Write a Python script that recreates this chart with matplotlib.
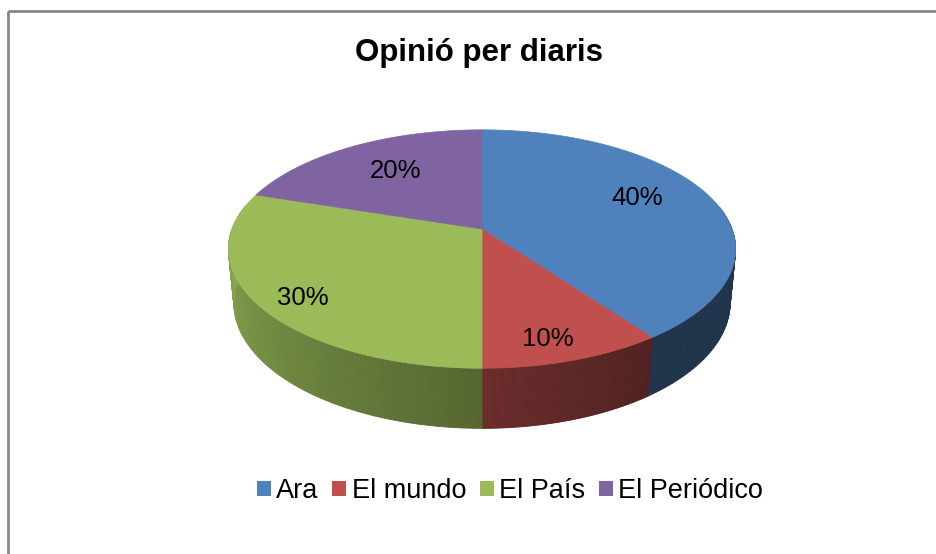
import numpy as np
import matplotlib
matplotlib.use("Agg")
import matplotlib.pyplot as plt
from matplotlib.patches import Polygon, Rectangle, Patch

plt.rcParams['font.family'] = ['Liberation Sans', 'DejaVu Sans']

# data
labels = ["Ara", "El mundo", "El País", "El Periódico"]
values = [40, 10, 30, 20]
colors = ["#4f81bd", "#c0504d", "#9bbb59", "#8064a2"]
title = "Opinió per diaris"

# simple perspective camera for the 3d pie
cx, cy = 482, 229          # apex on screen (pixels)
F = 1317.5
D = 5.27
elev = np.radians(27.6)
se, ce = np.sin(elev), np.cos(elev)
h = 0.245                  # thickness
# where excel put the % labels (radius, angle nudge in degrees)
label_r = [0.72, 0.84, 0.84, 0.68]
label_da = [6.7, -2.3, 2.9, -2.0]


def proj(x, y, z=0.0):
    depth = D + y * ce - z * se
    sx = F * x / depth
    sy = F * (y * se + z * ce) / depth
    return cx + sx, cy - sy


def shade(t):
    # light from the left
    d = np.degrees(t) % 360
    if d < 90:
        d += 360
    return max(0.40, min(0.89, 0.89 - 0.0038 * (d - 180)))


def tint(c, f):
    rgb = np.array(matplotlib.colors.to_rgb(c))
    return tuple(rgb * f)


fig = plt.figure(figsize=(9.37, 5.54), dpi=100)
ax = fig.add_axes([0, 0, 1, 1])
ax.set_xlim(0, 937)
ax.set_ylim(554, 0)
ax.axis("off")

ax.add_patch(Rectangle((8, 11), 1200, 1200, fill=False, edgecolor="#878787", lw=2))

# slice angles, clockwise from 12 o'clock
total = sum(values)
starts = []
a = np.pi / 2
for v in values:
    starts.append((a, a - 2 * np.pi * v / total))
    a -= 2 * np.pi * v / total

# side walls
for (a0, a1), col in zip(starts, colors):
    ts = np.linspace(a0, a1, 120)
    for t1, t2 in zip(ts[:-1], ts[1:]):
        if np.sin((t1 + t2) / 2) > 0.2:
            continue
        p = [proj(np.cos(t1), np.sin(t1)), proj(np.cos(t2), np.sin(t2)),
             proj(np.cos(t2), np.sin(t2), -h), proj(np.cos(t1), np.sin(t1), -h)]
        fc = tint(col, shade((t1 + t2) / 2))
        ax.add_patch(Polygon(p, closed=True, facecolor=fc, edgecolor=fc, lw=0.6))

# top face
for (a0, a1), col in zip(starts, colors):
    ts = np.linspace(a0, a1, 200)
    pts = [proj(0, 0)] + [proj(np.cos(t), np.sin(t)) for t in ts]
    ax.add_patch(Polygon(pts, closed=True, facecolor=col, edgecolor=col, lw=0.5))

# percentage labels
for (a0, a1), v, r, da in zip(starts, values, label_r, label_da):
    m = (a0 + a1) / 2 + np.radians(da)
    x, y = proj(r * np.cos(m), r * np.sin(m))
    ax.text(x, y + 9, f"{v}%", fontsize=18.5, ha="center", va="baseline", color="black")

ax.text(479, 53, title, fontsize=22.5, fontweight="bold", ha="center", va="center")

handles = [Patch(facecolor=c, edgecolor="none") for c in colors]
fig.legend(handles, labels, loc="center", bbox_to_anchor=(510 / 937, 1 - 491 / 554),
           ncol=4, frameon=False, fontsize=19.5, handlelength=0.52, handleheight=0.52,
           handletextpad=0.2, columnspacing=0.5, borderaxespad=0)

fig.savefig("out.png", dpi=100)
